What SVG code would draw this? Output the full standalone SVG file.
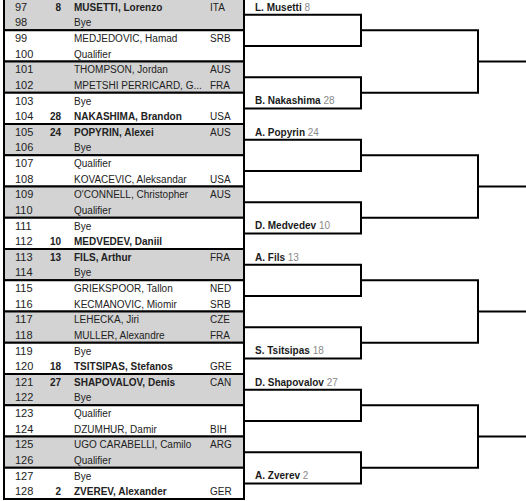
<svg xmlns="http://www.w3.org/2000/svg" width="526" height="501" viewBox="0 0 526 501">
<style>
text{font-family:"Liberation Sans",Arial,sans-serif;font-size:10px;fill:#222}
.n{font-size:11px}
.b{font-weight:bold}
.seed{text-anchor:end;font-weight:bold}
.g{fill:#d3d3d3;stroke:#000;stroke-width:2}
.w{fill:#fff;stroke:#000;stroke-width:2}
.lbl{font-weight:bold;fill:#1a1a1a}
.sd{font-weight:normal;fill:#8a8a8a}
.con{fill:none;stroke:#000;stroke-width:2}
</style>
<rect width="526" height="501" fill="#fff"/>
<g id="table">
<g id="m1" transform="translate(0,-1)"><rect class="g" x="4" y="0" width="240" height="31.25"/><text class="n" x="15" y="11.8">97</text><text class="seed" x="61" y="11.8">8</text><text class="b" x="74" y="11.8">MUSETTI, Lorenzo</text><text x="210" y="11.8">ITA</text><text class="n" x="15" y="27.4">98</text><text x="74" y="27.4">Bye</text></g>
<g id="m2" transform="translate(0,30.25)"><rect class="w" x="4" y="0" width="240" height="31.25"/><text class="n" x="15" y="11.8">99</text><text x="74" y="11.8">MEDJEDOVIC, Hamad</text><text x="210" y="11.8">SRB</text><text class="n" x="15" y="27.4">100</text><text x="74" y="27.4">Qualifier</text></g>
<g id="m3" transform="translate(0,61.5)"><rect class="g" x="4" y="0" width="240" height="31.25"/><text class="n" x="15" y="11.8">101</text><text x="74" y="11.8">THOMPSON, Jordan</text><text x="210" y="11.8">AUS</text><text class="n" x="15" y="27.4">102</text><text x="74" y="27.4">MPETSHI PERRICARD, G...</text><text x="210" y="27.4">FRA</text></g>
<g id="m4" transform="translate(0,92.75)"><rect class="w" x="4" y="0" width="240" height="31.25"/><text class="n" x="15" y="11.8">103</text><text x="74" y="11.8">Bye</text><text class="n" x="15" y="27.4">104</text><text class="seed" x="61" y="27.4">28</text><text class="b" x="74" y="27.4">NAKASHIMA, Brandon</text><text x="210" y="27.4">USA</text></g>
<g id="m5" transform="translate(0,124)"><rect class="g" x="4" y="0" width="240" height="31.25"/><text class="n" x="15" y="11.8">105</text><text class="seed" x="61" y="11.8">24</text><text class="b" x="74" y="11.8">POPYRIN, Alexei</text><text x="210" y="11.8">AUS</text><text class="n" x="15" y="27.4">106</text><text x="74" y="27.4">Bye</text></g>
<g id="m6" transform="translate(0,155.25)"><rect class="w" x="4" y="0" width="240" height="31.25"/><text class="n" x="15" y="11.8">107</text><text x="74" y="11.8">Qualifier</text><text class="n" x="15" y="27.4">108</text><text x="74" y="27.4">KOVACEVIC, Aleksandar</text><text x="210" y="27.4">USA</text></g>
<g id="m7" transform="translate(0,186.5)"><rect class="g" x="4" y="0" width="240" height="31.25"/><text class="n" x="15" y="11.8">109</text><text x="74" y="11.8">O'CONNELL, Christopher</text><text x="210" y="11.8">AUS</text><text class="n" x="15" y="27.4">110</text><text x="74" y="27.4">Qualifier</text></g>
<g id="m8" transform="translate(0,217.75)"><rect class="w" x="4" y="0" width="240" height="31.25"/><text class="n" x="15" y="11.8">111</text><text x="74" y="11.8">Bye</text><text class="n" x="15" y="27.4">112</text><text class="seed" x="61" y="27.4">10</text><text class="b" x="74" y="27.4">MEDVEDEV, Daniil</text></g>
<g id="m9" transform="translate(0,249)"><rect class="g" x="4" y="0" width="240" height="31.25"/><text class="n" x="15" y="11.8">113</text><text class="seed" x="61" y="11.8">13</text><text class="b" x="74" y="11.8">FILS, Arthur</text><text x="210" y="11.8">FRA</text><text class="n" x="15" y="27.4">114</text><text x="74" y="27.4">Bye</text></g>
<g id="m10" transform="translate(0,280.25)"><rect class="w" x="4" y="0" width="240" height="31.25"/><text class="n" x="15" y="11.8">115</text><text x="74" y="11.8">GRIEKSPOOR, Tallon</text><text x="210" y="11.8">NED</text><text class="n" x="15" y="27.4">116</text><text x="74" y="27.4">KECMANOVIC, Miomir</text><text x="210" y="27.4">SRB</text></g>
<g id="m11" transform="translate(0,311.5)"><rect class="g" x="4" y="0" width="240" height="31.25"/><text class="n" x="15" y="11.8">117</text><text x="74" y="11.8">LEHECKA, Jiri</text><text x="210" y="11.8">CZE</text><text class="n" x="15" y="27.4">118</text><text x="74" y="27.4">MULLER, Alexandre</text><text x="210" y="27.4">FRA</text></g>
<g id="m12" transform="translate(0,342.75)"><rect class="w" x="4" y="0" width="240" height="31.25"/><text class="n" x="15" y="11.8">119</text><text x="74" y="11.8">Bye</text><text class="n" x="15" y="27.4">120</text><text class="seed" x="61" y="27.4">18</text><text class="b" x="74" y="27.4">TSITSIPAS, Stefanos</text><text x="210" y="27.4">GRE</text></g>
<g id="m13" transform="translate(0,374)"><rect class="g" x="4" y="0" width="240" height="31.25"/><text class="n" x="15" y="11.8">121</text><text class="seed" x="61" y="11.8">27</text><text class="b" x="74" y="11.8">SHAPOVALOV, Denis</text><text x="210" y="11.8">CAN</text><text class="n" x="15" y="27.4">122</text><text x="74" y="27.4">Bye</text></g>
<g id="m14" transform="translate(0,405.25)"><rect class="w" x="4" y="0" width="240" height="31.25"/><text class="n" x="15" y="11.8">123</text><text x="74" y="11.8">Qualifier</text><text class="n" x="15" y="27.4">124</text><text x="74" y="27.4">DZUMHUR, Damir</text><text x="210" y="27.4">BIH</text></g>
<g id="m15" transform="translate(0,436.5)"><rect class="g" x="4" y="0" width="240" height="31.25"/><text class="n" x="15" y="11.8">125</text><text x="74" y="11.8">UGO CARABELLI, Camilo</text><text x="210" y="11.8">ARG</text><text class="n" x="15" y="27.4">126</text><text x="74" y="27.4">Qualifier</text></g>
<g id="m16" transform="translate(0,467.75)"><rect class="w" x="4" y="0" width="240" height="31.25"/><text class="n" x="15" y="11.8">127</text><text x="74" y="11.8">Bye</text><text class="n" x="15" y="27.4">128</text><text class="seed" x="61" y="27.4">2</text><text class="b" x="74" y="27.4">ZVEREV, Alexander</text><text x="210" y="27.4">GER</text></g>
</g>
<g id="connectors">
<path class="con" d="M244 14.625H361V45.875H244M244 77.125H361V108.375H244M361 30.25H478V92.75H361M478 61.5H526"/>
<path class="con" d="M244 139.625H361V170.875H244M244 202.125H361V233.375H244M361 155.25H478V217.75H361M478 186.5H526"/>
<path class="con" d="M244 264.625H361V295.875H244M244 327.125H361V358.375H244M361 280.25H478V342.75H361M478 311.5H526"/>
<path class="con" d="M244 389.625H361V420.875H244M244 452.125H361V483.375H244M361 405.25H478V467.75H361M478 436.5H526"/>
</g>
<g id="w1"><text class="lbl" x="255" y="10.6">L. Musetti <tspan class="sd">8</tspan></text></g>
<g id="w4"><text class="lbl" x="255" y="104.4">B. Nakashima <tspan class="sd">28</tspan></text></g>
<g id="w5"><text class="lbl" x="255" y="135.6">A. Popyrin <tspan class="sd">24</tspan></text></g>
<g id="w8"><text class="lbl" x="255" y="229.4">D. Medvedev <tspan class="sd">10</tspan></text></g>
<g id="w9"><text class="lbl" x="255" y="260.6">A. Fils <tspan class="sd">13</tspan></text></g>
<g id="w12"><text class="lbl" x="255" y="354.4">S. Tsitsipas <tspan class="sd">18</tspan></text></g>
<g id="w13"><text class="lbl" x="255" y="385.6">D. Shapovalov <tspan class="sd">27</tspan></text></g>
<g id="w16"><text class="lbl" x="255" y="479.4">A. Zverev <tspan class="sd">2</tspan></text></g>
</svg>
